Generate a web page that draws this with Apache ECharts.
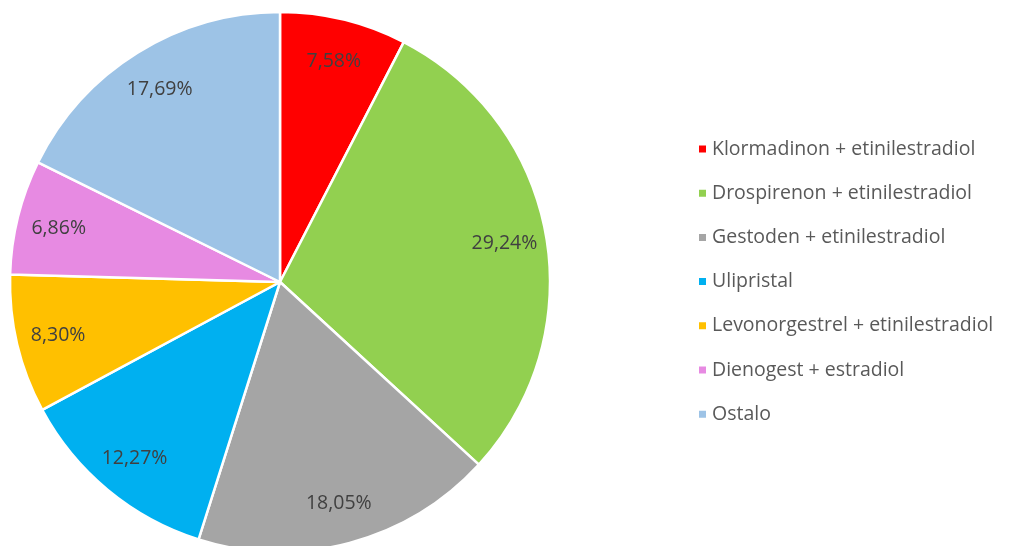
<!doctype html>
<html lang="hr">
<head>
<meta charset="UTF-8">
<title>Pie</title>
<script src="https://cdn.jsdelivr.net/npm/echarts@6/dist/echarts.min.js"></script>
<style>
  html, body { margin: 0; padding: 0; background: #fff; }
  #main { width: 1014px; height: 546px; }
</style>
</head>
<body>
<div id="main"></div>
<script>
// podaci
var names = ['Klormadinon + etinilestradiol', 'Drospirenon + etinilestradiol', 'Gestoden + etinilestradiol',
  'Ulipristal', 'Levonorgestrel + etinilestradiol', 'Dienogest + estradiol', 'Ostalo'];
var values = [7.58, 29.24, 18.05, 12.27, 8.30, 6.86, 17.69];
var colors = ['#FF0000', '#92D050', '#A5A5A5', '#00B0F0', '#FFC000', '#E78AE2', '#9DC3E6'];

var font = '"Open Sans", "Liberation Sans", sans-serif';

var pieData = names.map(function (n, i) {
  return { name: n, value: values[i], itemStyle: { color: colors[i] } };
});

var myChart = echarts.init(document.getElementById('main'));

var option = {
  animation: false,
  color: colors,
  legend: {
    orient: 'vertical',
    left: 692,
    top: 134,
    icon: 'rect',
    itemWidth: 9,
    itemHeight: 9,
    itemGap: 24.2,
    textStyle: { fontFamily: font, fontSize: 19.5, color: '#595959', lineHeight: 20 },
    data: names
  },
  series: [
    {
      type: 'pie',
      center: [280, 282],
      radius: [0, 270],
      startAngle: 90,
      clockwise: true,
      silent: true,
      itemStyle: { borderColor: '#fff', borderWidth: 2.5 },
      label: { show: false },
      labelLine: { show: false },
      data: pieData
    },
    {
      // samo za oznake
      type: 'pie',
      center: [280, 283],
      radius: [180, 270],
      startAngle: 90,
      clockwise: true,
      silent: true,
      legendHoverLink: false,
      itemStyle: { color: 'rgba(0,0,0,0)', borderWidth: 0 },
      label: {
        show: true,
        position: 'inside',
        fontFamily: font,
        fontSize: 19.5,
        color: '#404040',
        formatter: function (p) {
          return p.value.toFixed(2).replace('.', ',') + '%';
        }
      },
      labelLine: { show: false },
      data: names.map(function (n, i) { return { name: n + ' ', value: values[i] }; })
    }
  ]
};

myChart.setOption(option);
</script>
</body>
</html>
